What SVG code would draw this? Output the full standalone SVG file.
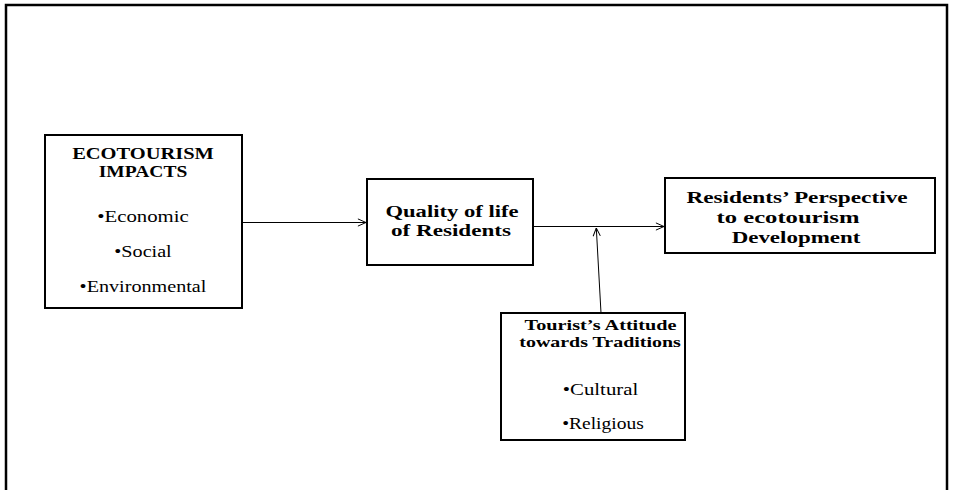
<svg xmlns="http://www.w3.org/2000/svg" width="954" height="490" viewBox="0 0 954 490">
  <style>
    .box { fill: #ffffff; stroke: #000000; stroke-width: 2; }
    .frame { fill: none; stroke: #000000; stroke-width: 2.5; }
    .link { fill: none; stroke: #000000; stroke-width: 1; }
    .head { font-family: "Liberation Serif", "Times New Roman", serif; font-weight: bold; fill: #000000; text-anchor: middle; }
    .item { font-family: "Liberation Serif", "Times New Roman", serif; fill: #000000; text-anchor: middle; font-size: 16px; }
  </style>
  <defs>
    <marker id="open-arrow" viewBox="0 0 10 10" refX="10" refY="5" markerWidth="9" markerHeight="9" markerUnits="userSpaceOnUse" orient="auto">
      <path d="M1,1 L10,5 L1,9" fill="none" stroke="#000000" stroke-width="1.1"/>
    </marker>
  </defs>

  <rect class="frame" x="6" y="5" width="941" height="500"/>

  <g id="connectors">
    <line class="link" x1="243" y1="222.5" x2="366" y2="222.5" stroke="#333333" marker-end="url(#open-arrow)"/>
    <line class="link" x1="534" y1="226.5" x2="664" y2="226.5" marker-end="url(#open-arrow)"/>
    <line class="link" x1="601" y1="313" x2="596.3" y2="228" marker-end="url(#open-arrow)"/>
  </g>

  <!-- labels are drawn wide: each line is scaled horizontally about its centre -->
  <g id="ecotourism-impacts">
    <rect class="box" x="45" y="135" width="197" height="173"/>
    <text class="head" font-size="16" transform="translate(143,159) scale(1.28,1)">ECOTOURISM</text>
    <text class="head" font-size="16" transform="translate(143,177) scale(1.22,1)">IMPACTS</text>
    <text class="item" transform="translate(143,222) scale(1.3,1)">•Economic</text>
    <text class="item" transform="translate(143,257) scale(1.26,1)">•Social</text>
    <text class="item" transform="translate(143,292) scale(1.26,1)">•Environmental</text>
  </g>

  <g id="quality-of-life">
    <rect class="box" x="367" y="179" width="166" height="86"/>
    <text class="head" font-size="17" transform="translate(452,217) scale(1.33,1)">Quality of life</text>
    <text class="head" font-size="17" transform="translate(451,235.5) scale(1.36,1)">of Residents</text>
  </g>

  <g id="residents-perspective">
    <rect class="box" x="665" y="178" width="270" height="75"/>
    <text class="head" font-size="17" transform="translate(797,203) scale(1.37,1)">Residents’ Perspective</text>
    <text class="head" font-size="17" transform="translate(788,223) scale(1.45,1)">to ecotourism</text>
    <text class="head" font-size="17" transform="translate(796,243) scale(1.35,1)">Development</text>
  </g>

  <g id="tourist-attitude">
    <rect class="box" x="501" y="313" width="184" height="127"/>
    <text class="head" font-size="15" transform="translate(600.5,330) scale(1.35,1)">Tourist’s Attitude</text>
    <text class="head" font-size="15" transform="translate(600,346.5) scale(1.33,1)">towards Traditions</text>
    <text class="item" transform="translate(600.5,395) scale(1.3,1)">•Cultural</text>
    <text class="item" transform="translate(603,429) scale(1.22,1)">•Religious</text>
  </g>
</svg>
